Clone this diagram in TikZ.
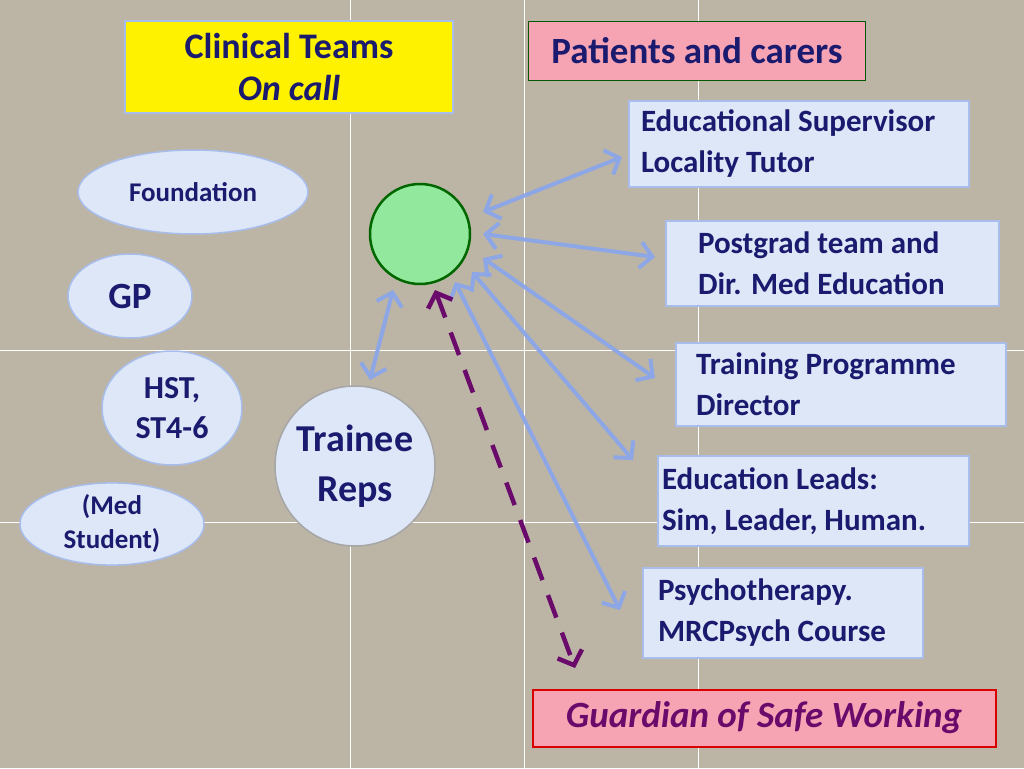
\documentclass[tikz,border=0pt]{standalone}
\usepackage{fontspec}
\setmainfont{Carlito}
\usetikzlibrary{arrows.meta,shapes.geometric}
\definecolor{bgtan}{HTML}{BCB5A6}
\definecolor{navy}{HTML}{1A1A6E}
\definecolor{boxblue}{HTML}{DDE7F8}
\definecolor{edgeblue}{HTML}{A8BDEB}
\definecolor{linkblue}{HTML}{8CA6E6}
\definecolor{guardpink}{HTML}{F6A3B4}
\definecolor{guardpurple}{HTML}{6A0A6A}
\definecolor{hubgreen}{HTML}{92E89C}
\tikzset{
    infobox/.style={draw=edgeblue,line width=2pt,fill=boxblue,anchor=north west,
        align=flush left,font=\bfseries\fontsize{31}{41}\selectfont,text=navy,inner ysep=0pt},
    grade/.style={ellipse,draw=edgeblue,line width=1.5pt,fill=boxblue,text=navy,
        align=center,inner sep=0pt},
    link/.style={linkblue,line width=4pt,{Straight Barb[length=12pt,width=26pt]}-{Straight Barb[length=12pt,width=26pt]}},
}
\begin{document}
\begin{tikzpicture}[x=1pt,y=-1pt]
    \useasboundingbox (0,0) rectangle (1024,768);
    % Background and grid
    \fill[bgtan] (0,0) rectangle (1024,768);
    \foreach \gx in {350,524,698} \draw[white,line width=1pt] (\gx,0) -- (\gx,768);
    \foreach \gy in {350,522} \draw[white,line width=1pt] (0,\gy) -- (1024,\gy);

    % Top boxes
    \node[draw=edgeblue,line width=2pt,fill=yellow,minimum width=328pt,minimum height=91pt,
        align=center,text=navy,font=\bfseries\fontsize{36}{42}\selectfont,inner sep=2pt]
        (clinical) at (289,67) {Clinical Teams\\\itshape On call};
    \node[draw=green!35!black,line width=1pt,fill=guardpink,minimum width=337pt,minimum height=58pt,
        text=navy,font=\bfseries\fontsize{37}{44}\selectfont,inner sep=0pt] (patients) at (697,51) {Patients and carers};

    % Right boxes
    \node[infobox,minimum width=340pt,minimum height=86pt,text width=316pt,inner xsep=12pt] (es) at (628,100) {Educational Supervisor\\Locality Tutor};
    \node[infobox,minimum width=333pt,minimum height=85pt,text width=269pt,inner xsep=32pt] (pg) at (665,220) {Postgrad team and\\Dir. Med Education};
    \node[infobox,minimum width=330pt,minimum height=83pt,text width=290pt,inner xsep=20pt] (tpd) at (675,342) {Training Programme\\Director};
    \node[infobox,minimum width=311pt,minimum height=90pt,text width=303pt,inner xsep=4pt] (leads) at (657,455) {Education Leads:\\Sim, Leader, Human.};
    \node[infobox,minimum width=280pt,minimum height=90pt,text width=250pt,inner xsep=15pt] (psych) at (642,567) {Psychotherapy.\\MRCPsych Course};
    \node[draw=red!85!black,line width=2pt,fill=guardpink,minimum width=463pt,minimum height=57pt,inner sep=0pt,
        text=guardpurple,font=\bfseries\itshape\fontsize{37}{44}\selectfont] (guardian) at (764,718) {Guardian of Safe Working};

    % Left ellipses
    \node[grade,minimum width=230pt,minimum height=84pt,font=\bfseries\fontsize{27}{30}\selectfont] (found) at (193,192) {Foundation};
    \node[grade,minimum width=124pt,minimum height=84pt,font=\bfseries\fontsize{37}{40}\selectfont] (gp) at (130,296) {GP};
    \node[grade,minimum width=140pt,minimum height=114pt,font=\bfseries\fontsize{32}{40}\selectfont] (hst) at (172,408) {HST,\\ST4-6};
    \node[grade,minimum width=184pt,minimum height=80pt,font=\bfseries\fontsize{27}{34}\selectfont] (med) at (112,524) {(Med\\Student)};
    \node[circle,draw=gray!70,line width=1.5pt,fill=boxblue,minimum size=160pt,text=navy,inner sep=0pt,
        align=center,font=\bfseries\fontsize{38}{50}\selectfont] (reps) at (355,466) {Trainee\\Reps};

    % Hub
    \node[circle,draw=green!40!black,line width=2.5pt,fill=hubgreen,minimum size=100pt] (hub) at (420,234) {};

    % Links
    \coordinate (esEnd) at (622,157);
    \coordinate (pgEnd) at (655,257);
    \coordinate (tpdEnd) at (655,378);
    \coordinate (leadsEnd) at (633,460);
    \coordinate (psychEnd) at (620,610);
    \coordinate (repsEnd) at (370,380);
    \coordinate (guardEnd) at (575,668);
    \draw[link] (483,212) -- (esEnd);
    \draw[link] (483,234) -- (pgEnd);
    \draw[link] (483,258) -- (tpdEnd);
    \draw[link] (472,272) -- (leadsEnd);
    \draw[link] (455,282) -- (psychEnd);
    \draw[link] (393,290) -- (repsEnd);
    \draw[guardpurple,line width=4.5pt,dash pattern=on 24pt off 16pt,
        {Straight Barb[length=12pt,width=26pt]}-{Straight Barb[length=12pt,width=26pt]}] (435,290) -- (guardEnd);
\end{tikzpicture}
\end{document}
